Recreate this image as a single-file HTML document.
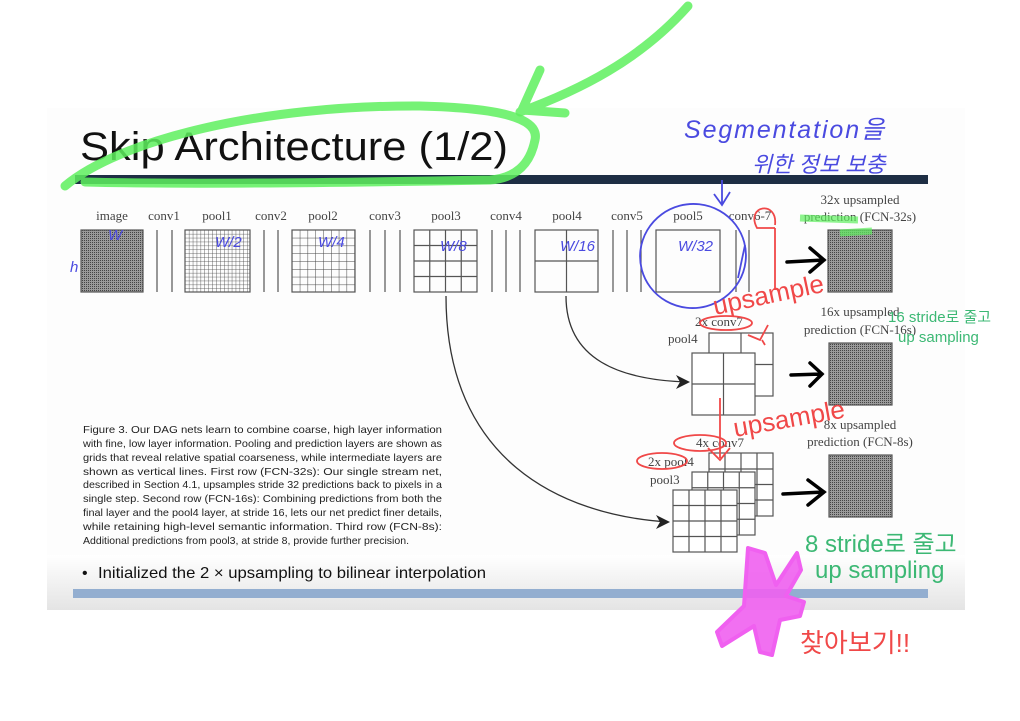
<!DOCTYPE html>
<html><head><meta charset="utf-8"><style>
html,body{margin:0;padding:0;background:#fff;}
svg{display:block;}
.s{font-family:"Liberation Serif",serif;font-size:13px;fill:#444;}
.c{font-family:"Liberation Sans",sans-serif;font-size:10.5px;fill:#222;}
.h{font-family:"Liberation Sans","Noto Sans CJK KR",sans-serif;}
</style></head><body>
<svg width="1020" height="721" viewBox="0 0 1020 721" xmlns="http://www.w3.org/2000/svg">
<defs>
<pattern id="d" width="2" height="2" patternUnits="userSpaceOnUse"><rect width="2" height="2" fill="#9a9a9a"/><rect width="1" height="1" fill="#444"/></pattern>
<pattern id="p1" x="185" y="230" width="3.9" height="3.9" patternUnits="userSpaceOnUse"><path d="M0 0H3.9M0 0V3.9" stroke="#444" stroke-width="0.8" fill="none"/></pattern>
<pattern id="p2" x="292" y="230" width="7.8" height="7.8" patternUnits="userSpaceOnUse"><path d="M0 0H7.8M0 0V7.8" stroke="#444" stroke-width="1" fill="none"/></pattern>
<linearGradient id="sh" x1="0" y1="0" x2="0" y2="1"><stop offset="0" stop-color="#fff"/><stop offset="1" stop-color="#e4e4e4"/></linearGradient>
</defs>
<rect x="47" y="108" width="918" height="502" fill="#fdfdfd"/>
<rect x="47" y="555" width="918" height="55" fill="url(#sh)"/>
<rect x="75" y="175" width="853" height="9" fill="#1e2e44"/>
<rect x="73" y="589" width="855" height="9" fill="#93aed0"/>
<text x="80" y="160" font-family="Liberation Sans,sans-serif" font-size="40" fill="#111" textLength="428" lengthAdjust="spacingAndGlyphs">Skip Architecture (1/2)</text>

<g class="s" text-anchor="middle">
<text x="112" y="220">image</text><text x="164" y="220">conv1</text><text x="217" y="220">pool1</text>
<text x="271" y="220">conv2</text><text x="323" y="220">pool2</text><text x="385" y="220">conv3</text>
<text x="446" y="220">pool3</text><text x="506" y="220">conv4</text><text x="567" y="220">pool4</text>
<text x="627" y="220">conv5</text><text x="688" y="220">pool5</text><text x="750" y="220">conv6-7</text>
<text x="860" y="204">32x upsampled</text><text x="860" y="221">prediction (FCN-32s)</text>
<text x="860" y="316">16x upsampled</text><text x="860" y="334">prediction (FCN-16s)</text>
<text x="860" y="429">8x upsampled</text><text x="860" y="446">prediction (FCN-8s)</text>
</g>
<g fill="none" stroke="#555" stroke-width="1.2">
<rect x="81" y="230" width="62" height="62" fill="url(#d)"/>
<rect x="185" y="230" width="65" height="62" fill="url(#p1)"/>
<rect x="292" y="230" width="63" height="62" fill="url(#p2)"/>
<rect x="414" y="230" width="63" height="62"/><path d="M429.75 230V292M445.5 230V292M461.25 230V292M414 245.5H477M414 261H477M414 276.5H477"/>
<rect x="535" y="230" width="63" height="62"/><path d="M566.5 230V292M535 261H598"/>
<rect x="656" y="230" width="64" height="62"/>
<path d="M157 230V292M172 230V292M264 230V292M278 230V292M370 230V292M385 230V292M400 230V292M492 230V292M506 230V292M520 230V292M613 230V292M627 230V292M641 230V292M736 230V292M749 230V292"/>
<rect x="828" y="230" width="64" height="62" fill="url(#d)"/>
<rect x="829" y="343" width="63" height="62" fill="url(#d)"/>
<rect x="829" y="455" width="63" height="62" fill="url(#d)"/>
<rect x="709" y="333" width="64" height="63" fill="#fff"/><path d="M741 333V396M709 364.5H773"/>
<rect x="692" y="353" width="63" height="62" fill="#fff"/><path d="M723.5 353V415M692 384H755"/>
<rect x="709" y="453" width="64" height="63" fill="#fff"/><path d="M725 453V516M741 453V516M757 453V516M709 469H773M709 484.5H773M709 500H773"/>
<rect x="692" y="472" width="63" height="63" fill="#fff"/><path d="M707.75 472V535M723.5 472V535M739.25 472V535M692 487.75H755M692 503.5H755M692 519.25H755"/>
<rect x="673" y="490" width="64" height="62" fill="#fff"/><path d="M689 490V552M705 490V552M721 490V552M673 505.5H737M673 521H737M673 536.5H737"/>
</g>
<g class="s"><text x="668" y="343">pool4</text><text x="695" y="326">2x conv7</text>
<text x="696" y="447">4x conv7</text><text x="648" y="466">2x pool4</text><text x="650" y="484">pool3</text></g>
<g fill="none" stroke="#333" stroke-width="1.3">
<path d="M446 296 C446 460 560 515 668 522"/>
<path d="M566 296 C566 360 620 380 688 382"/>
</g>
<path d="M670 522 L656 515 L660 522 L656 529Z" fill="#222"/>
<path d="M690 382 L676 375 L680 382 L676 389Z" fill="#222"/>
<g fill="none" stroke="#000" stroke-width="3.5" stroke-linecap="round">
<path d="M787 262 L824 260 M810 248 L824 260 L810 272"/>
<path d="M791 375 L822 374 M810 363 L822 374 L810 386"/>
<path d="M783 494 L824 492 M808 480 L824 492 L808 505"/>
</g>
<g class="c">
<text x="83" y="433" textLength="359" lengthAdjust="spacingAndGlyphs">Figure 3. Our DAG nets learn to combine coarse, high layer information</text>
<text x="83" y="447" textLength="359" lengthAdjust="spacingAndGlyphs">with fine, low layer information. Pooling and prediction layers are shown as</text>
<text x="83" y="461" textLength="359" lengthAdjust="spacingAndGlyphs">grids that reveal relative spatial coarseness, while intermediate layers are</text>
<text x="83" y="475" textLength="359" lengthAdjust="spacingAndGlyphs">shown as vertical lines. First row (FCN-32s): Our single stream net,</text>
<text x="83" y="488" textLength="359" lengthAdjust="spacingAndGlyphs">described in Section 4.1, upsamples stride 32 predictions back to pixels in a</text>
<text x="83" y="502" textLength="359" lengthAdjust="spacingAndGlyphs">single step. Second row (FCN-16s): Combining predictions from both the</text>
<text x="83" y="516" textLength="359" lengthAdjust="spacingAndGlyphs">final layer and the pool4 layer, at stride 16, lets our net predict finer details,</text>
<text x="83" y="530" textLength="359" lengthAdjust="spacingAndGlyphs">while retaining high-level semantic information. Third row (FCN-8s):</text>
<text x="83" y="544" textLength="326" lengthAdjust="spacingAndGlyphs">Additional predictions from pool3, at stride 8, provide further precision.</text>
</g>
<text x="82" y="578" font-family="Liberation Sans,sans-serif" font-size="16" fill="#111">•</text>
<text x="98" y="578" font-family="Liberation Sans,sans-serif" font-size="16" fill="#111" textLength="388" lengthAdjust="spacingAndGlyphs">Initialized the 2 × upsampling to bilinear interpolation</text>

<g fill="none" stroke="#5ef05e" stroke-opacity="0.85" stroke-width="9" stroke-linecap="round" stroke-linejoin="round">
<path d="M65 186 C120 140 260 105 420 106 C500 108 540 118 535 140 C530 165 515 178 490 180 C380 182 200 185 85 182"/>
<path d="M688 6 C640 60 580 90 520 112 M522 110 L540 70 M522 110 L565 113"/>
</g>
<path d="M840 233 L872 231 M800 218 L858 220" stroke="#5ef05e" stroke-opacity="0.7" stroke-width="7" fill="none"/>
<g fill="none" stroke="#4a4ae0" stroke-width="1.8">
<ellipse cx="693" cy="256" rx="53" ry="52" transform="rotate(-15 693 256)"/>
<path d="M722 180 V205 M714 194 L722 205 L730 192"/>
<path d="M745 245 L738 278"/>
</g>
<g class="h" fill="#4a4ae0" font-size="15" font-style="italic">
<text x="108" y="240">W</text><text x="215" y="247">W/2</text><text x="318" y="247">W/4</text>
<text x="440" y="251">W/8</text><text x="560" y="251">W/16</text><text x="678" y="251">W/32</text>
<text x="70" y="272">h</text>
<text x="684" y="138" font-size="25" textLength="200">Segmentation을</text>
<text x="752" y="172" font-size="22">위한   정보 보충</text>
</g>
<g fill="none" stroke="#f04848" stroke-width="1.8">
<path d="M775 225 C778 200 745 205 757 228 L775 228 M775 228 V290"/>
<ellipse cx="726" cy="323" rx="26" ry="7"/>
<path d="M765 345 L762 340 M768 325 L760 340 L748 335"/>
<ellipse cx="700" cy="443" rx="26" ry="8"/>
<ellipse cx="662" cy="461" rx="25" ry="8"/>
<path d="M720 398 V458 M708 448 L720 460 L730 448"/>
</g>
<g class="h" fill="#f04848" font-size="26">
<text x="715" y="315" transform="rotate(-12 715 315)">upsample</text>
<text x="735" y="437" transform="rotate(-10 735 437)">upsample</text>
<text x="800" y="652" font-size="26">찾아보기!!</text>
</g>
<g class="h" fill="#3cb874">
<text x="888" y="322" font-size="15">16 stride로 줄고</text>
<text x="898" y="342" font-size="15">up sampling</text>
<text x="805" y="552" font-size="24">8 stride로  줄고</text>
<text x="815" y="578" font-size="24">up sampling</text>
</g>
<path d="M748 548 L765 553 L776 585 L797 553 L801 570 L786 596 L804 602 L800 616 L780 620 L772 655 L760 652 L754 626 L722 646 L717 632 L744 606 Z" fill="#f060f0" fill-opacity="0.9" stroke="#f060f0" stroke-width="4" stroke-linejoin="round"/>
</svg>
</body></html>
